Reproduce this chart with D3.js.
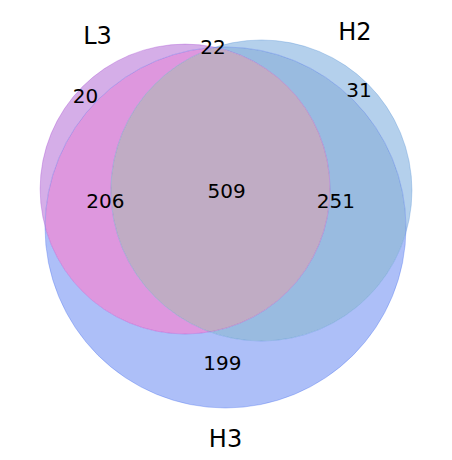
<!DOCTYPE html>
<html>
<head>
<meta charset="utf-8">
<title>Venn L3 / H2 / H3</title>
<script src="https://cdn.jsdelivr.net/npm/d3@7"></script>
<style>
  body { margin: 0; background: #fff; }
  svg { display: block; font-family: "DejaVu Sans", sans-serif; }
</style>
</head>
<body>
<div id="chart"></div>
<script>
// set names and region counts (bits: L3 H2 H3)
const setNames = ["L3", "H2", "H3"];
const regionKeys = ["100", "010", "110", "001", "101", "011", "111"];
const regionCounts = [20, 31, 22, 199, 206, 251, 509];

const width = 452, height = 460;

// circle layout in venn units (H3 radius = 1)
const circleX = [-0.224, 0.199, 0];
const circleY = [-0.213, -0.205, 0];
const circleR = [0.803, 0.834, 1];
const setColors = ["#9932cc", "#4386cf", "#3660ec"];

// label spots in venn units
const setLabelX = [-0.709, 0.717, 0];
const setLabelY = [-1.017, -1.039, 1.216];
const countX = [-0.776, 0.740, -0.069, -0.017, -0.665, 0.612, 0.006];
const countY = [-0.690, -0.723, -0.961, 0.789, -0.108, -0.108, -0.163];
const regionColors = ["#d5aee8", "#b4d0ec", "#bcb2de", "#adbff8", "#de97de", "#99bbe0", "#c0acc4"];

const unit = 180.5;
const x = d3.scaleLinear().domain([-1, 1]).range([225.5 - unit, 225.5 + unit]);
const y = d3.scaleLinear().domain([-1, 1]).range([227.5 - unit, 227.5 + unit]);
const r = d3.scaleLinear().domain([0, 1]).range([0, unit]);

const svg = d3.select("#chart").append("svg")
  .attr("width", width)
  .attr("height", height);

const defs = svg.append("defs");
setNames.forEach((name, i) => {
  defs.append("clipPath").attr("id", "clip" + i)
    .append("circle")
    .attr("cx", x(circleX[i])).attr("cy", y(circleY[i])).attr("r", r(circleR[i]));
  const m = defs.append("mask").attr("id", "mask" + i);
  m.append("rect").attr("width", width).attr("height", height).attr("fill", "#fff");
  m.append("circle")
    .attr("cx", x(circleX[i])).attr("cy", y(circleY[i])).attr("r", r(circleR[i]))
    .attr("fill", "#000");
});

// each region: full rect clipped by its sets, masked by the others
const regions = svg.append("g");
regionKeys.forEach((key, k) => {
  let g = regions.append("g");
  key.split("").forEach((bit, i) => {
    g = g.append("g").attr(bit === "1" ? "clip-path" : "mask",
      bit === "1" ? "url(#clip" + i + ")" : "url(#mask" + i + ")");
  });
  g.append("rect")
    .attr("width", width).attr("height", height)
    .attr("fill", regionColors[k]);
});

// faint circle edges
svg.append("g").selectAll("circle")
  .data(setNames)
  .join("circle")
  .attr("cx", (d, i) => x(circleX[i]))
  .attr("cy", (d, i) => y(circleY[i]))
  .attr("r", (d, i) => r(circleR[i]))
  .attr("fill", "none")
  .attr("stroke", (d, i) => setColors[i])
  .attr("stroke-opacity", 0.3)
  .attr("stroke-width", 1);

svg.append("g").selectAll("text")
  .data(regionCounts)
  .join("text")
  .attr("x", (d, i) => x(countX[i]))
  .attr("y", (d, i) => y(countY[i]))
  .attr("text-anchor", "middle")
  .attr("font-size", 20)
  .attr("fill", "#000")
  .text(d => d);

svg.append("g").selectAll("text")
  .data(setNames)
  .join("text")
  .attr("x", (d, i) => x(setLabelX[i]))
  .attr("y", (d, i) => y(setLabelY[i]))
  .attr("text-anchor", "middle")
  .attr("font-size", 24)
  .attr("fill", "#000")
  .text(d => d);
</script>
</body>
</html>
